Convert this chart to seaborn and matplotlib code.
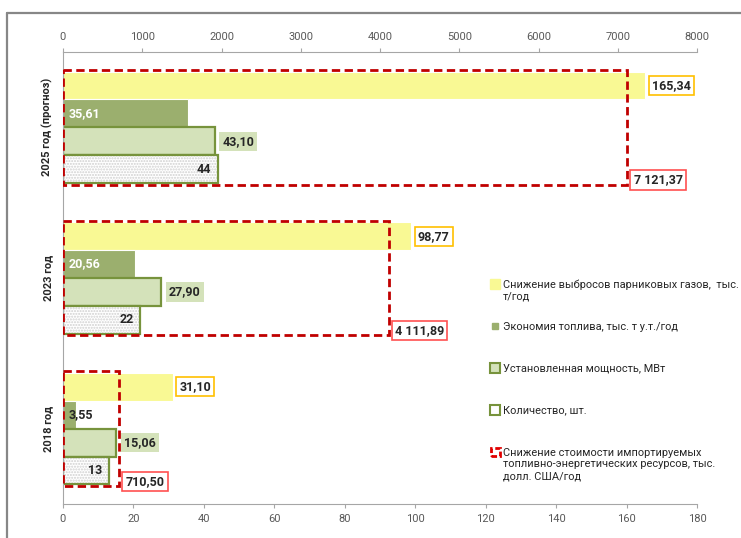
import numpy as np
import pandas as pd
import matplotlib
matplotlib.use("Agg")
import matplotlib.pyplot as plt
from matplotlib.patches import Patch, Rectangle
from matplotlib.lines import Line2D
import seaborn as sns

# ---------------- data ----------------
periods = ["2025 год (прогноз)", "2023 год", "2018 год"]
series = [
    "Снижение выбросов парниковых газов,  тыс.\nт/год",
    "Экономия топлива, тыс. т у.т./год",
    "Установленная мощность, МВт",
    "Количество, шт.",
]
cost_label = "Снижение стоимости импортируемых\nтопливно-энергетических ресурсов, тыс.\nдолл. США/год"
emissions = [165.34, 98.77, 31.10]
fuel = [35.61, 20.56, 3.55]
capacity = [43.10, 27.90, 15.06]
count = [44, 22, 13]
cost = [7121.37, 4111.89, 710.50]

bottom_ticks = list(range(0, 181, 20))
top_ticks = list(range(0, 8001, 1000))

# ---------------- style ----------------
sns.set_style("white")
plt.rcParams["font.family"] = ["Roboto", "DejaVu Sans"]

YELLOW = "#F9F994"
DKGREEN = "#9BAF6E"
LTGREEN = "#D4E2BA"
EDGEGREEN = "#77933C"
RED = "#C00000"
LABELRED = "#FF5050"
GOLD = "#FFC000"
TXT = "#262626"
TICK = "#595959"
AXC = "#A6A6A6"

df = pd.DataFrame({
    "period": periods * 4,
    "series": sum([[s] * 3 for s in series], []),
    "value": emissions + fuel + capacity + count,
})

W, H = 741, 538
fig = plt.figure(figsize=(W / 100, H / 100), dpi=100)
ax = fig.add_axes([63 / W, (H - 504) / H, (697 - 63) / W, (504 - 52) / H])

# cost rectangles on the top axis (drawn first because y-ticks are shared)
ax2 = ax.twiny()
sns.barplot(x=cost, y=periods, order=periods, ax=ax2, width=0.76,
            fill=False, color=RED, orient="h")
for p in ax2.patches:
    p.set_edgecolor(RED)
    p.set_facecolor("none")
    p.set_linestyle((0, (3, 1.6)))
    p.set_linewidth(2.0)
    p.set_zorder(5)

sns.barplot(data=df, x="value", y="period", hue="series", order=periods,
            hue_order=series, palette=[YELLOW, DKGREEN, LTGREEN, "white"],
            orient="h", width=0.74, saturation=1, legend=False, ax=ax)

c_em, c_fu, c_cap, c_cnt = ax.containers[:4]
for p in c_em:
    p.set_edgecolor("white"); p.set_linewidth(0.8)
for p in c_fu:
    p.set_edgecolor("white"); p.set_linewidth(0.8)
for p in c_cap:
    p.set_edgecolor(EDGEGREEN); p.set_linewidth(1.6)
for p in c_cnt:
    p.set_facecolor("white")
    p.set_hatch("......")
    p.set_edgecolor("#D0D0D0")
    p.set_linewidth(0)
    ax.add_patch(Rectangle(p.get_xy(), p.get_width(), p.get_height(),
                           facecolor="none", edgecolor=EDGEGREEN, lw=1.6, zorder=p.get_zorder() + 0.1))

def fmt(v):
    return f"{v:,.2f}".replace(",", " ").replace(".", ",")

lab_kw = dict(fontsize=9, fontweight="bold", va="center", textcoords="offset points")

for p, v in zip(c_em, emissions):
    yc = p.get_y() + p.get_height() / 2
    ax.annotate(fmt(v), xy=(v, yc), xytext=(5, 0), ha="left", color=TXT,
                bbox=dict(boxstyle="square,pad=0.25", fc="white", ec=GOLD, lw=1.2), **lab_kw)
for p, v in zip(c_fu, fuel):
    yc = p.get_y() + p.get_height() / 2
    col = "white" if v > 10 else TXT
    ax.annotate(fmt(v), xy=(0, yc), xytext=(4, 0), ha="left", color=col, **lab_kw)
for p, v in zip(c_cap, capacity):
    yc = p.get_y() + p.get_height() / 2
    ax.annotate(fmt(v), xy=(v, yc), xytext=(5.5, 0), ha="left", color=TXT,
                bbox=dict(boxstyle="square,pad=0.25", fc=LTGREEN, ec="none"), **lab_kw)
for p, v in zip(c_cnt, count):
    yc = p.get_y() + p.get_height() / 2
    ax.annotate(str(v), xy=(v, yc), xytext=(-5, 0), ha="right", color=TXT, zorder=6, **lab_kw)
for i, v in enumerate(cost):
    ax2.annotate(fmt(v), xy=(v, i + 0.35), xytext=(4.5, 0), ha="left", color=TXT,
                 bbox=dict(boxstyle="square,pad=0.25", fc="white", ec=LABELRED, lw=1.2),
                 zorder=7, **lab_kw)

# ---------------- axes ----------------
ax.set_xlim(0, 180)
ax2.set_xlim(0, 8000)
ax.set_ylim(2.5, -0.5)
ax.set_xticks(bottom_ticks)
ax2.set_xticks(top_ticks)
ax.set_yticks(range(len(periods)))
ax.set_yticklabels(periods, rotation=90, va="center", ha="right",
                   fontsize=8, fontweight="bold", color=TXT)
ax.set_yticks([0.5, 1.5], minor=True)
ax.tick_params(axis="y", which="major", length=0, pad=7)
ax.tick_params(axis="y", which="minor", length=3, color=AXC, direction="out")
ax.tick_params(axis="x", length=3, color=AXC, labelsize=8, labelcolor=TICK, pad=4)
ax2.tick_params(axis="x", length=3, color=AXC, labelsize=8, labelcolor=TICK, pad=4)
for a in (ax, ax2):
    a.set_xlabel(""); a.set_ylabel("")
    for s in a.spines.values():
        s.set_visible(False)
ax.spines["left"].set_visible(True); ax.spines["left"].set_color(AXC)
ax.spines["bottom"].set_visible(True); ax.spines["bottom"].set_color(AXC)
ax2.spines["top"].set_visible(True); ax2.spines["top"].set_color(AXC)

# ---------------- legend (one block per entry, Excel-like even slots) ----------------
handles = [
    Line2D([], [], ls="none", marker="s", markersize=6.5, mfc=YELLOW, mec=YELLOW),
    Line2D([], [], ls="none", marker="s", markersize=4.5, mfc=DKGREEN, mec=DKGREEN),
    Line2D([], [], ls="none", marker="s", markersize=6.5, mfc=LTGREEN, mec=EDGEGREEN, mew=1.5),
    Line2D([], [], ls="none", marker="s", markersize=6.5, mfc="white", mec=EDGEGREEN, mew=1.5),
    Patch(facecolor="white", edgecolor="#E00000", lw=2, ls=(0, (2, 1))),
]
labels = series + [cost_label]
first_line_y = [286, 328, 370, 412, 454]
for h, lab, yy in zip(handles, labels, first_line_y):
    lines = lab.split("\n")
    hs = [h] + [Line2D([], [], ls="none") for _ in lines[1:]]
    leg = fig.legend(hs, lines, loc="upper left",
                     bbox_to_anchor=(491 / W, 1 - (yy - 6.5) / H),
                     frameon=False, fontsize=7.9, labelspacing=0.18, handlelength=0.8,
                     handleheight=0.8, handletextpad=0.3, borderaxespad=0, borderpad=0,
                     labelcolor=TXT)

# chart frame (top and left edges visible)
fig.add_artist(Line2D([7 / W, 7 / W], [0, 1 - 13 / H], transform=fig.transFigure,
                      color="#878787", lw=1.6))
fig.add_artist(Line2D([7 / W, 1], [1 - 13 / H, 1 - 13 / H], transform=fig.transFigure,
                      color="#878787", lw=1.6))

fig.savefig("out.png", dpi=100)
